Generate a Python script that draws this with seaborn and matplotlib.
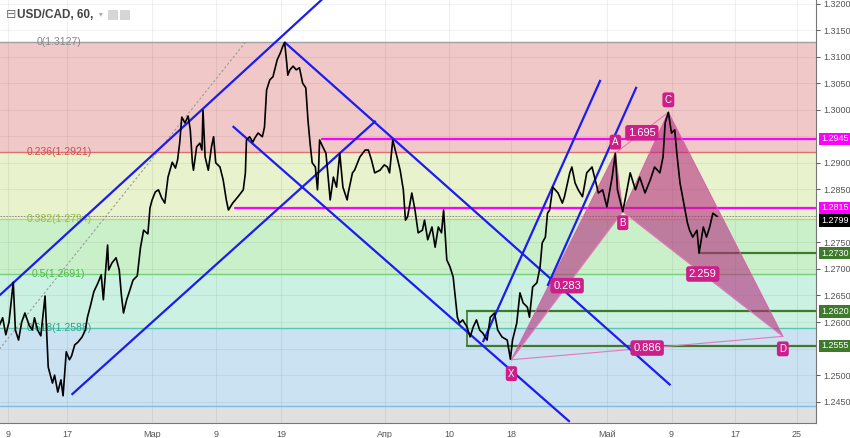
import matplotlib
matplotlib.use("Agg")
import matplotlib.pyplot as plt
import matplotlib.transforms as mtransforms
from matplotlib.patches import Rectangle
import seaborn as sns
import pandas as pd

# USD/CAD hourly close, x = trading days since 9 Feb
price_days = [
    -0.8, -0.5, -0.2, 0.1, 0.5, 0.7, 1.0, 1.3, 1.6, 2.0,
    2.3, 2.5, 2.8, 3.1, 3.5, 3.8, 4.2, 4.4, 4.7, 5.0,
    5.2, 5.5, 5.8, 6.0, 6.3, 6.6, 7.0, 7.3, 7.5, 7.8,
    8.1, 8.5, 8.8, 9.0, 9.2, 9.4, 9.5, 9.8, 10.2, 10.5,
    10.7, 10.9, 11.2, 11.5, 11.8, 12.2, 12.5, 12.8, 13.2, 13.4,
    13.6, 13.9, 14.2, 14.5, 14.8, 15.1, 15.5, 15.8, 16.0, 16.2,
    16.4, 16.7, 17.0, 17.2, 17.4, 17.5, 17.8, 18.1, 18.3, 18.4,
    18.6, 18.9, 19.2, 19.4, 19.6, 20.0, 20.3, 20.6, 20.8, 21.2,
    21.7, 22.2, 22.4, 22.5, 22.8, 23.1, 23.3, 23.6, 24.0, 24.2,
    24.4, 24.7, 25.0, 25.4, 25.7, 25.9, 26.1, 26.3, 26.4,
    26.6, 26.9, 27.2, 27.5, 27.8, 28.1, 28.3, 28.5, 28.7, 29.0,
    29.2, 29.3, 29.4, 29.7, 30.0, 30.2, 30.4, 30.7, 31.0, 31.3,
    31.6, 32.0, 32.1, 32.5, 32.7, 33.2, 33.7, 34.0, 34.3, 34.6,
    35.1, 35.5, 35.8, 36.0, 36.3, 36.7, 37.0, 37.3, 37.5, 37.7,
    38.1, 38.4, 38.7, 39.1, 39.3, 39.6, 40.0, 40.3, 40.6, 40.9,
    41.1, 41.4, 41.7, 42.0, 42.4, 42.6, 42.9, 43.3, 43.6, 43.9,
    44.2, 44.5, 44.8, 45.2, 45.5, 45.9, 46.2, 46.6, 47.1, 47.4,
    47.6, 48.0, 48.3, 48.6, 49.0, 49.2, 49.5, 49.9, 50.2, 50.4,
    50.7, 50.9,
    51.1, 51.4, 51.9, 52.3, 52.5, 53.0, 53.2, 53.5, 53.8, 54.2,
    54.6, 55.1, 55.4, 55.7, 56.1, 56.5, 57.0, 57.3, 57.5, 58.0,
    58.4, 58.7, 59.2, 59.6, 60.1, 60.6, 61.0, 61.5, 61.8, 62.0,
    62.3, 62.6, 62.9, 63.1, 63.4, 63.7, 64.1, 64.3, 64.6, 65.0,
    65.2, 65.6, 65.9, 66.2, 66.5, 66.9,
]
price_values = [
    1.2594, 1.2608, 1.2576, 1.2600, 1.2675, 1.2585, 1.2566, 1.2600, 1.2617, 1.2594,
    1.2585, 1.2608, 1.2585, 1.2574, 1.2649, 1.2515, 1.2485, 1.2500, 1.2468, 1.2491,
    1.2461, 1.2544, 1.2529, 1.2536, 1.2557, 1.2562, 1.2572, 1.2585, 1.2609, 1.2632,
    1.2657, 1.2674, 1.2689, 1.2642, 1.2694, 1.2745, 1.2698, 1.2711, 1.2721, 1.2698,
    1.2651, 1.2617, 1.2642, 1.2660, 1.2679, 1.2687, 1.2740, 1.2773, 1.2766, 1.2815,
    1.2830, 1.2845, 1.2849, 1.2834, 1.2824, 1.2873, 1.2901, 1.2890, 1.2905, 1.2937,
    1.2986, 1.2975, 1.2988, 1.2962, 1.2900, 1.2886, 1.2930, 1.2937, 1.2924, 1.2999,
    1.2911, 1.2886, 1.2930, 1.2949, 1.2900, 1.2892, 1.2868, 1.2830, 1.2811, 1.2824,
    1.2836, 1.2849, 1.2881, 1.2943, 1.2949, 1.2939, 1.2947, 1.2956, 1.2949, 1.2967,
    1.3037, 1.3056, 1.3062, 1.3094, 1.3107, 1.3118, 1.3127, 1.3088, 1.3065,
    1.3075, 1.3082, 1.3075, 1.3079, 1.3050, 1.3041, 1.2981, 1.2937, 1.2900, 1.2892,
    1.2849, 1.2886, 1.2943, 1.2930, 1.2918, 1.2873, 1.2830, 1.2873, 1.2854, 1.2918,
    1.2854, 1.2830, 1.2843, 1.2881, 1.2886, 1.2911, 1.2924, 1.2924, 1.2905, 1.2881,
    1.2886, 1.2896, 1.2892, 1.2881, 1.2943, 1.2911, 1.2886, 1.2849, 1.2792, 1.2798,
    1.2843, 1.2811, 1.2768, 1.2773, 1.2792, 1.2755, 1.2779, 1.2741, 1.2779, 1.2768,
    1.2811, 1.2717, 1.2704, 1.2685, 1.2609, 1.2598, 1.2604, 1.2591, 1.2572, 1.2591,
    1.2604, 1.2585, 1.2579, 1.2566, 1.2609, 1.2617, 1.2585, 1.2572, 1.2566, 1.2530,
    1.2566, 1.2598, 1.2655, 1.2636, 1.2628, 1.2609, 1.2666, 1.2674, 1.2704, 1.2749,
    1.2760, 1.2805,
    1.2811, 1.2854, 1.2843, 1.2824, 1.2836, 1.2881, 1.2892, 1.2862, 1.2849, 1.2836,
    1.2881, 1.2892, 1.2868, 1.2843, 1.2849, 1.2817, 1.2873, 1.2918, 1.2849, 1.2808,
    1.2849, 1.2881, 1.2849, 1.2873, 1.2843, 1.2868, 1.2892, 1.2881, 1.2911, 1.2975,
    1.2995, 1.2956, 1.2962, 1.2918, 1.2862, 1.2830, 1.2787, 1.2773, 1.2760, 1.2773,
    1.2730, 1.2779, 1.2760, 1.2779, 1.2805, 1.2799,
]
last_price = 1.2799

# Fibonacci retracement
fib_ratios = ["0", "0.236", "0.382", "0.5", "0.618", "0.786", "1"]
fib_prices = [1.3127, 1.2921, 1.2794, 1.2691, 1.2588, 1.2441, 1.2254]
fib_fill = ["#f1c8c8", "#e8f2cc", "#caf0ca", "#caf1e1", "#cae2f1", "#e0e0e0"]
fib_line = ["#a0a0a0", "#e07070", "#b9d77a", "#77cf77", "#5cc6b0", "#7cbde8"]
fib_text = ["#888888", "#c85050", "#8fc33a", "#4cbb4c", "#2aa58f"]
fib_trend_days = [-0.8, 22.4]
fib_trend_prices = [1.2549, 1.3127]

# trend channels
channel_lines = [
    ([-0.8, 29.7], [1.2650, 1.3209]),
    ([6.0, 34.7], [1.2463, 1.2979]),
    ([26.1, 62.5], [1.3127, 1.2481]),
    ([21.2, 53.0], [1.2969, 1.2412]),
    ([44.8, 55.9], [1.2562, 1.3056]),
    ([50.9, 59.3], [1.2668, 1.3043]),
]

# horizontal levels: (price, start day)
magenta_levels = [(1.2945, 29.6), (1.2815, 21.4)]
green_levels = [(1.2730, 65.2), (1.2620, 43.3), (1.2555, 43.3)]

# XABCD pattern
pattern_names = ["X", "A", "B", "C", "D"]
pattern_days = [47.5, 57.3, 58.0, 62.3, 73.1]
pattern_prices = [1.2529, 1.2918, 1.2808, 1.2995, 1.2573]
pattern_ratios = [("0.283", 0, 2), ("1.695", 1, 3), ("2.259", 2, 4), ("0.886", 0, 4)]

xtick_pos = [0, 5.6, 13.6, 19.6, 25.8, 35.6, 41.6, 47.5, 56.5, 62.6, 68.6, 74.4]
xtick_labels = ["9", "17", "Мар", "9", "19", "Апр", "10", "18", "Май", "9", "17", "25"]
ytick_vals = [1.3200, 1.3150, 1.3100, 1.3050, 1.3000, 1.2900, 1.2850,
              1.2750, 1.2700, 1.2650, 1.2600, 1.2500, 1.2450]
grid_y = [1.3200, 1.3150, 1.3100, 1.3050, 1.3000, 1.2950, 1.2900, 1.2850, 1.2800,
          1.2750, 1.2700, 1.2650, 1.2600, 1.2550, 1.2500, 1.2450]

sns.set_style("white")
plt.rcParams['font.family'] = ['Liberation Sans', 'DejaVu Sans']

fig = plt.figure(figsize=(8.5, 4.38), dpi=100)
ax = fig.add_axes([0, 1 - 423 / 438, 816 / 850, 423 / 438])
ax.set_xlim(-0.75, 76.23)
ax.set_ylim(1.24098, 1.32066)

for i in range(len(fib_fill)):
    ax.axhspan(fib_prices[i + 1], fib_prices[i], color=fib_fill[i], lw=0, zorder=0)
for i in range(len(fib_line)):
    ax.axhline(fib_prices[i], color=fib_line[i], lw=1.0, zorder=0.6)

# grid
for x in xtick_pos:
    ax.axvline(x, color="black", alpha=0.06, lw=0.8, zorder=0.5)
for y in grid_y:
    ax.axhline(y, color="black", alpha=0.05, lw=0.8, zorder=0.5)

for i in range(5):
    ax.text(4.8, fib_prices[i], f"{fib_ratios[i]}({fib_prices[i]:.4f})", color=fib_text[i],
            fontsize=7.5, ha="center", va="center", zorder=3)

ax.plot(fib_trend_days, fib_trend_prices, color="#999999", lw=0.8, ls=(0, (2, 2)), zorder=1)
ax.axhline(last_price, color="#888888", lw=0.7, ls=(0, (1.5, 1.5)), zorder=1)

for xs, ys in channel_lines:
    ax.plot(xs, ys, color="#1c1cf0", lw=1.6, zorder=3, solid_capstyle="butt")

right = ax.get_xlim()[1]
for p, start in magenta_levels:
    ax.plot([start, right], [p, p], color="#ff00ff", lw=1.6, zorder=2)
for p, start in green_levels:
    ax.plot([start, right], [p, p], color="#3d7a2a", lw=1.6, zorder=2)
ax.plot([43.3, 43.3], [1.2555, 1.2620], color="#3d7a2a", lw=1.2, zorder=2)

# pattern triangles
pat_col = "#b5287e"
ax.fill(pattern_days[0:3], pattern_prices[0:3], color=pat_col, alpha=0.58, lw=0, zorder=2.2)
ax.fill(pattern_days[2:5], pattern_prices[2:5], color=pat_col, alpha=0.58, lw=0, zorder=2.2)
ax.plot(pattern_days, pattern_prices, color="#d666a8", lw=0.8, zorder=2.3)
for _, a, b in pattern_ratios:
    ax.plot([pattern_days[a], pattern_days[b]], [pattern_prices[a], pattern_prices[b]],
            color="#e07ab8", lw=0.8, zorder=2.3)

df = pd.DataFrame({"day": price_days, "price": price_values})
sns.lineplot(data=df, x="day", y="price", ax=ax, color="black", lw=1.2,
             sort=False, estimator=None, zorder=4)

box = dict(boxstyle="round,pad=0.25", fc="#cc1f8a", ec="none")
for label, a, b in pattern_ratios:
    mx = (pattern_days[a] + pattern_days[b]) / 2
    my = (pattern_prices[a] + pattern_prices[b]) / 2
    ax.text(mx, my, label, color="white", fontsize=8, ha="center", va="center",
            bbox=box, zorder=6)
offsets = [-10, 8, -8, 9, -9]
for name, d, p, off in zip(pattern_names, pattern_days, pattern_prices, offsets):
    ax.annotate(name, (d, p), xytext=(0, off), textcoords="offset points", color="white",
                fontsize=7, ha="center", va="center", bbox=box, zorder=6)

# axes styling
ax.set_xlabel("")
ax.set_ylabel("")
ax.set_xticks(xtick_pos)
ax.set_xticklabels(xtick_labels)
ax.yaxis.tick_right()
ax.set_yticks(ytick_vals)
ax.set_yticklabels([f"{v:.4f}" for v in ytick_vals])
ax.tick_params(axis="both", labelsize=6.5, colors="#555555", length=3, width=0.7, pad=2)
for s in ["top", "left"]:
    ax.spines[s].set_visible(False)
for s in ["bottom", "right"]:
    ax.spines[s].set_color("#777777")
    ax.spines[s].set_linewidth(0.8)

trans = mtransforms.blended_transform_factory(ax.transAxes, ax.transData)
boxed = [(1.2945, "#ff00ff", "white", 0), (1.2815, "#ff00ff", "white", 0),
         (last_price, "black", "white", -3), (1.2730, "#3d7a2a", "white", 0),
         (1.2620, "#3d7a2a", "white", 0), (1.2555, "#3d7a2a", "white", 0)]
for p, fc, tc, dy in boxed:
    ax.annotate(f"{p:.4f}", (1.0, p), xycoords=trans, xytext=(3.5, dy), textcoords="offset points",
                fontsize=6.5, color=tc, ha="left", va="center", annotation_clip=False,
                bbox=dict(boxstyle="square,pad=0.2", fc=fc, ec="none"), zorder=7)

# header
fig.text(6 / 850, 1 - 15 / 438, "⊟", fontsize=9, color="#777777", va="center",
         family="DejaVu Sans")
fig.text(17 / 850, 1 - 15 / 438, "USD/CAD, 60,", fontsize=8.5, fontweight="bold",
         color="#444444", va="center")
fig.text(99 / 850, 1 - 14 / 438, "▾", fontsize=5.5, color="#aaaaaa", va="center",
         family="DejaVu Sans")
for x0 in [108, 120]:
    fig.add_artist(Rectangle((x0 / 850, 1 - 20 / 438), 10 / 850, 10 / 438,
                             transform=fig.transFigure, fc="#d6d6d6", ec="none"))

fig.savefig("out.png", dpi=100)
